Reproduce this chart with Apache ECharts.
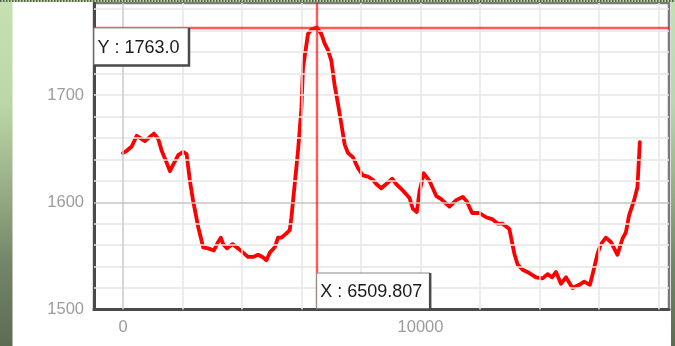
<!DOCTYPE html>
<html>
<head>
<meta charset="utf-8">
<script src="https://cdn.jsdelivr.net/npm/echarts@6/dist/echarts.min.js"></script>
<style>
html,body{margin:0;padding:0;background:#fff;}
#c{width:675px;height:346px;}
</style>
</head>
<body>
<div id="c"></div>
<script>
var xValues = [0,124,292,460,570,738,906,1040,1185,1299,1466,1577,1688,1856,2023,2138,2248,2359,2527,2695,2862,3054,3198,3289,3366,3500,3681,3869,4037,4205,4373,4540,4688,4822,4933,5101,5211,5326,5493,5604,5661,5772,5883,5997,6050,6218,6332,6510,6668,6779,6889,7003,7114,7225,7339,7450,7560,7728,7896,8064,8232,8399,8513,8681,8849,9050,9185,9406,9631,9742,9876,9966,10111,10302,10527,10695,10973,11198,11419,11554,11735,11980,12205,12426,12594,12762,12987,13154,13265,13433,13658,13882,14104,14272,14419,14554,14721,14889,15111,15336,15503,15695,15839,15950,16064,16232,16399,16621,16789,16903,17013,17181,17292,17372];
var yValues = [1646,1648,1652,1662,1660,1657,1661,1664,1659,1648,1637,1629,1635,1644,1647,1645,1620,1601,1577,1558,1557,1555,1563,1567,1561,1557,1561,1557,1553,1549,1549,1551,1549,1546,1553,1558,1567,1567,1571,1574,1586,1617,1648,1688,1725,1757,1761,1763,1757,1748,1742,1732,1709,1692,1673,1654,1646,1642,1632,1625,1624,1621,1617,1613,1617,1622,1617,1611,1604,1594,1591,1610,1627,1620,1606,1603,1596,1602,1605,1601,1590,1590,1586,1584,1580,1580,1575,1552,1542,1537,1534,1530,1529,1533,1530,1535,1524,1530,1520,1523,1526,1523,1539,1552,1561,1567,1563,1551,1566,1572,1588,1602,1614,1656];
var xTickLabels = [0, 10000];
var yTickLabels = [1500, 1600, 1700];
var xGridValues = [2000,4000,6000,8000,10000,12000,14000,16000,18000];
var yGridValues = [1520,1540,1560,1580,1620,1640,1660,1680,1700,1720,1740,1760,1780];
var xMajorGrid = [0];
var yMajorGrid = [1600];
var crossX = 6509.807;
var crossY = 1763.0;

var seriesData = xValues.map(function (x, i) { return [x, yValues[i]]; });

var chart = echarts.init(document.getElementById('c'), null, {renderer: 'canvas'});
var FONT = '"Liberation Sans", Arial, sans-serif';

function gridLines(vals, key, color) {
  return vals.map(function (v) { var o = {}; o[key] = v; o.lineStyle = {color: color, width: 1.5, type: 'solid'}; return o; });
}
function plain(v) { return String(v); }

var option = {
  animation: false,
  backgroundColor: '#ffffff',
  grid: {left: 94, right: 6, top: 3, bottom: 36.5, show: true, borderColor: '#7a7a7a', borderWidth: 2.5, backgroundColor: '#ffffff'},
  xAxis: {
    type: 'value', min: -975, max: 18353,
    axisLine: {show: true, onZero: false, lineStyle: {color: '#4a4a4a', width: 3}},
    axisTick: {show: false},
    splitLine: {show: false},
    axisLabel: {customValues: xTickLabels, formatter: plain, color: '#9c9c9c', fontSize: 16.5, fontFamily: FONT, margin: 9}
  },
  yAxis: {
    type: 'value', min: 1500, max: 1785.8,
    axisLine: {show: true, onZero: false, lineStyle: {color: '#4a4a4a', width: 3}},
    axisTick: {show: false},
    splitLine: {show: false},
    axisLabel: {customValues: yTickLabels, formatter: plain, color: '#9c9c9c', fontSize: 16.5, fontFamily: FONT, margin: 10}
  },
  series: [
    {
      type: 'line', data: [], z: 1, silent: true,
      markLine: {
        silent: true, symbol: ['none', 'none'], label: {show: false}, animation: false,
        data: gridLines(xGridValues, 'xAxis', '#e6e6e6')
          .concat(gridLines(yGridValues, 'yAxis', '#e6e6e6'))
          .concat(gridLines(xMajorGrid, 'xAxis', '#cacaca'))
          .concat(gridLines(yMajorGrid, 'yAxis', '#c4c4c4'))
      }
    },
    {
      type: 'line', data: [], z: 2, silent: true,
      markLine: {
        silent: true, symbol: ['none', 'none'], label: {show: false}, animation: false,
        lineStyle: {color: 'rgba(255,20,20,0.7)', width: 2.4, type: 'solid'},
        data: [{xAxis: crossX}, {yAxis: crossY}]
      }
    },
    {
      type: 'line', data: seriesData, z: 3, showSymbol: false, symbol: 'none',
      lineStyle: {color: '#ff0000', width: 3.8, join: 'round', cap: 'round'}
    }
  ]
};
chart.setOption(option);

var p = chart.convertToPixel({gridIndex: 0}, [crossX, crossY]);
var pMin = chart.convertToPixel({gridIndex: 0}, [-975, 1500]);
var px = p[0], py = p[1], left = pMin[0], bottom = pMin[1];

function labelBox(x, y, w, h, text) {
  return [
    {type: 'rect', zlevel: 1, z: 100, shape: {x: x, y: y, width: w, height: h}, style: {fill: '#ffffff', stroke: '#8a8a8a', lineWidth: 1}},
    {type: 'polyline', zlevel: 1, z: 101, shape: {points: [[x + w, y], [x + w, y + h], [x, y + h]]}, style: {stroke: '#4a4a4a', lineWidth: 2.5, fill: null}},
    {type: 'text', zlevel: 1, z: 102, x: x + 3.5, y: y + h / 2 + 1, style: {text: text, fill: '#1a1a1a', font: '18px ' + FONT, verticalAlign: 'middle'}}
  ];
}

var grad = function () {
  return new echarts.graphic.LinearGradient(0, 0, 0, 1, [
    {offset: 0, color: '#c6e0b2'}, {offset: 0.3, color: '#bcd7a7'}, {offset: 0.55, color: '#98ad86'}, {offset: 0.75, color: '#75876a'}, {offset: 1, color: '#5d6b54'}]);
};

chart.setOption({
  graphic: [
    {type: 'rect', z: 0, shape: {x: 0, y: 0, width: 12.5, height: 346}, style: {fill: grad()}},
    {type: 'rect', z: 0, shape: {x: 671, y: 0, width: 4, height: 346}, style: {fill: grad()}},
    {type: 'line', z: 1, shape: {x1: 0, y1: 1, x2: 675, y2: 1}, style: {stroke: '#b9d4a4', lineWidth: 2}},
    {type: 'line', z: 2, shape: {x1: 0, y1: 1, x2: 675, y2: 1}, style: {stroke: '#56624d', lineWidth: 2, lineDash: [1.5, 1.5]}}
  ].concat(labelBox(left, py + 0.5, 95, 37.5, 'Y : ' + crossY.toFixed(1)))
   .concat(labelBox(px, bottom - 36.5, 113.5, 36.5, 'X : ' + crossX.toFixed(3)))
});
</script>
</body>
</html>
